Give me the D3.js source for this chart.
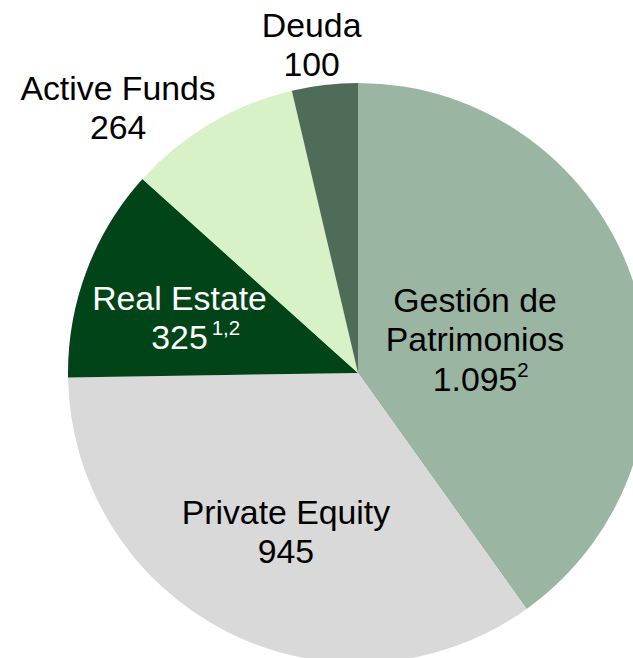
<!DOCTYPE html>
<html>
<head>
<meta charset="utf-8">
<script src="https://cdn.jsdelivr.net/npm/d3@7"></script>
<style>
  html, body { margin: 0; padding: 0; background: #fff; }
  svg { display: block; font-family: "Liberation Sans", Arial, sans-serif; }
</style>
</head>
<body>
<svg id="chart" width="633" height="658"></svg>
<script>
// slices, clockwise from 12 o'clock
const categories = ["Gestión de Patrimonios", "Private Equity", "Real Estate", "Active Funds", "Deuda"]
const values = [1095, 945, 325, 264, 100]
const valueLabels = ["1.095", "945", "325", "264", "100"]
const notes = ["2", "", "1,2", "", ""]
const nameLines = [["Gestión de", "Patrimonios"], ["Private Equity"], ["Real Estate"], ["Active Funds"], ["Deuda"]]

const colors = ["#9ab5a2", "#d9d9d9", "#004418", "#d8f1c7", "#4f6c58"]
const textColors = ["#000", "#000", "#fff", "#000", "#000"]
// label distance from centre as a share of the radius
const labelRadius = [0.42, 0.6, 0.645, 1.235, 1.145]
const labelAngleShift = [0.03, -0.04, -0.055, -0.2, -0.025]

const cx = 358, cy = 373, radius = 290
const fontSize = 33.8, lineH = 39.5

let svg = d3.select("#chart")
let g = svg.append("g").attr("transform", `translate(${cx},${cy})`)

let pie = d3.pie().sort(null).value(d => d)
let arcs = pie(values)

let arc = d3.arc().innerRadius(0).outerRadius(radius)

g.selectAll("path.slice")
    .data(arcs)
    .enter().append("path")
    .attr("class", "slice")
    .attr("fill", (d, i) => colors[i])
    .attr("d", arc)

arcs.forEach((d, i) => {
    let a = (d.startAngle + d.endAngle) / 2 + labelAngleShift[i]
    let r = radius * labelRadius[i]
    let x = Math.sin(a) * r
    let y = -Math.cos(a) * r
    let lines = nameLines[i].concat([valueLabels[i]])
    let top = y - (lines.length - 1) * lineH / 2 + fontSize * 0.36

    lines.forEach((line, j) => {
        let t = g.append("text")
            .attr("x", x)
            .attr("y", top + j * lineH)
            .attr("text-anchor", "middle")
            .attr("font-size", fontSize)
            .attr("fill", textColors[i])
            .text(line)
        if (j == lines.length - 1 && notes[i]) {
            let w = t.node().getComputedTextLength()
            g.append("text")
                .attr("x", x + w / 2 + (notes[i].length > 1 ? 4 : 0))
                .attr("y", top + j * lineH - 14)
                .attr("font-size", 20.5)
                .attr("fill", textColors[i])
                .text(notes[i])
        }
    })
})
</script>
</body>
</html>
